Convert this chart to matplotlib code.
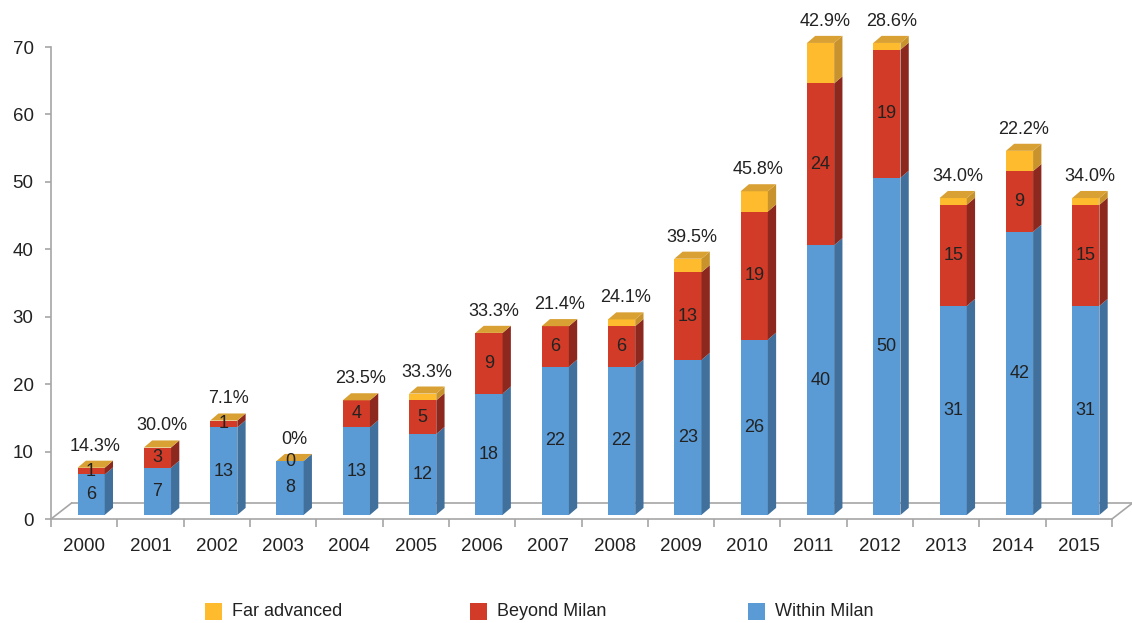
import numpy as np
import matplotlib.pyplot as plt
from matplotlib.patches import Polygon, Rectangle

plt.rcParams['font.family'] = ['Liberation Sans', 'DejaVu Sans']

years = [2000, 2001, 2002, 2003, 2004, 2005, 2006, 2007,
         2008, 2009, 2010, 2011, 2012, 2013, 2014, 2015]
within_milan = [6, 7, 13, 8, 13, 12, 18, 22, 22, 23, 26, 40, 50, 31, 42, 31]
beyond_milan = [1, 3, 1, 0, 4, 5, 9, 6, 6, 13, 19, 24, 19, 15, 9, 15]
far_advanced = [0, 0, 0, 0, 0, 1, 0, 0, 1, 2, 3, 6, 1, 1, 3, 1]
pct_labels = ["14.3%", "30.0%", "7.1%", "0%", "23.5%", "33.3%", "33.3%", "21.4%",
              "24.1%", "39.5%", "45.8%", "42.9%", "28.6%", "34.0%", "22.2%", "34.0%"]
series_names = ["Far advanced", "Beyond Milan", "Within Milan"]

# face colours: front, side
BLUE, BLUE_SIDE = "#5B9BD5", "#41709C"
RED, RED_SIDE = "#D13B27", "#8C281E"
YEL, YEL_SIDE = "#FDBB2D", "#C8922C"
TOP = "#D9A133"
GRID = "#A6A6A6"
TXT = "#222222"

W, H = 1132, 623
fig = plt.figure(figsize=(W / 100, H / 100), dpi=100)
ax = fig.add_axes([51 / W, 104 / H, 1061 / W, 472 / H])
ax.set_xlim(-0.5, 15.5)
ax.set_ylim(0, 70)

# pseudo-3D geometry (in data units)
OFF = 0.105      # shift of the front face from the category centre
BW = 0.41        # front face width
DX, DY = 0.125, 1.05   # bar depth offset
BASE = 0.6       # bars stand a little behind the floor's front edge
FDX, FDY = 0.31, 2.37  # floor depth

# floor outline
floor_kw = dict(color=GRID, lw=1.2, clip_on=False, zorder=1)
ax.plot([-0.5 + FDX, 15.5 + FDX], [FDY, FDY], **floor_kw)
ax.plot([-0.5, -0.5 + FDX], [0, FDY], **floor_kw)
ax.plot([15.5, 15.5 + FDX], [0, FDY], **floor_kw)

x = np.arange(len(years))
w = np.array(within_milan, dtype=float)
b = np.array(beyond_milan, dtype=float)
f = np.array(far_advanced, dtype=float)

stack = [(w, BASE + np.zeros_like(w), BLUE, BLUE_SIDE),
         (b, BASE + w, RED, RED_SIDE),
         (f, BASE + w + b, YEL, YEL_SIDE)]

for vals, bottoms, front, side in stack:
    ax.bar(x + OFF, vals, width=BW, bottom=bottoms, color=front,
           linewidth=0, clip_on=False, zorder=3)
    for xi, v, b0 in zip(x, vals, bottoms):
        if v <= 0:
            continue
        x1 = xi + OFF + BW / 2
        ax.add_patch(Polygon([(x1, b0), (x1 + DX, b0 + DY),
                              (x1 + DX, b0 + v + DY), (x1, b0 + v)],
                             closed=True, facecolor=side, lw=0,
                             clip_on=False, zorder=3))

totals = w + b + f
for xi, t in zip(x, totals):
    x0 = xi + OFF - BW / 2
    x1 = xi + OFF + BW / 2
    top = BASE + t
    ax.add_patch(Polygon([(x0, top), (x1, top), (x1 + DX, top + DY),
                          (x0 + DX, top + DY)], closed=True,
                         facecolor=TOP, lw=0, clip_on=False, zorder=3))

# segment value labels
for xi, wv, bv in zip(x, within_milan, beyond_milan):
    ax.text(xi + OFF, BASE + wv / 2, str(wv), ha="center", va="center",
            fontsize=13, color=TXT, zorder=5)
    ax.text(xi + OFF, BASE + wv + bv / 2, str(bv), ha="center", va="center",
            fontsize=13, color=TXT, zorder=5)

# share labels above the bars
for xi, t, lab in zip(x, totals, pct_labels):
    ax.text(xi + 0.17, BASE + t + 3.2, lab, ha="center", va="center",
            fontsize=13, color=TXT, zorder=5)

# axes styling
for s in ("top", "right"):
    ax.spines[s].set_visible(False)
for s in ("left", "bottom"):
    ax.spines[s].set_color(GRID)
    ax.spines[s].set_linewidth(1.2)
ax.set_yticks(range(0, 71, 10))
ax.tick_params(axis="y", length=4.5, width=1.2, color=GRID, pad=8,
               labelsize=13.5, labelcolor=TXT)
ax.set_xticks(x)
ax.set_xticklabels([str(y) for y in years])
ax.set_xticks(np.arange(-0.5, 16, 1), minor=True)
ax.tick_params(axis="x", which="major", length=0, pad=14,
               labelsize=13.5, labelcolor=TXT)
ax.tick_params(axis="x", which="minor", length=6, width=1.2, color=GRID)

# legend
leg_items = [(series_names[0], YEL, 205), (series_names[1], RED, 470),
             (series_names[2], BLUE, 748)]
for name, col, px in leg_items:
    fig.patches.append(Rectangle((px / W, (H - 620) / H), 17 / W, 17 / H,
                                 transform=fig.transFigure, facecolor=col,
                                 lw=0))
    fig.text((px + 27) / W, (H - 611) / H, name, ha="left", va="center",
             fontsize=13, color=TXT)

fig.savefig("out.png", dpi=100)
